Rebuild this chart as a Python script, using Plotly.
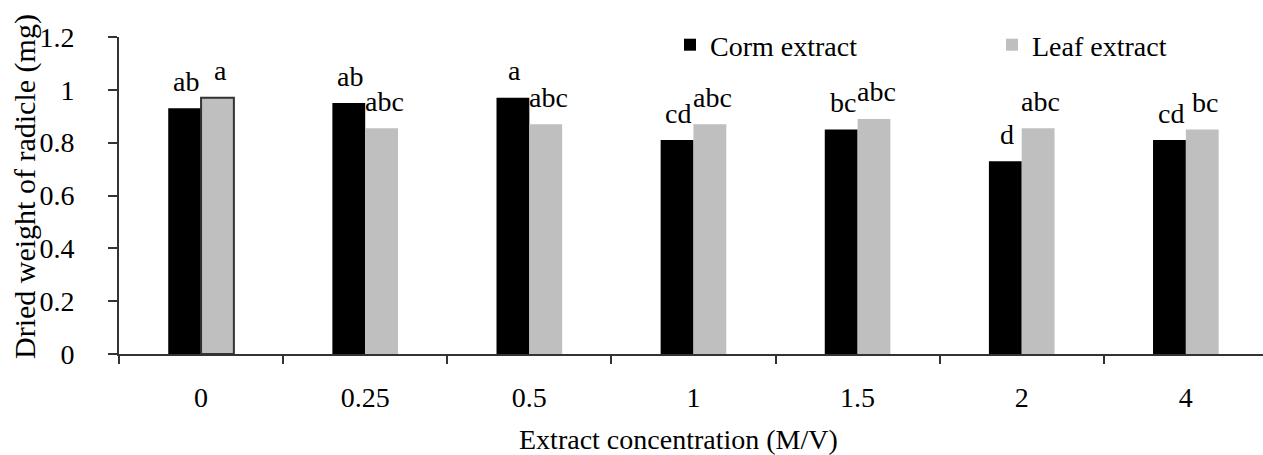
import plotly.graph_objects as go

# Radicle dry weight by extract concentration
concentrations = ["0", "0.25", "0.5", "1", "1.5", "2", "4"]
corm_weight = [0.93, 0.95, 0.97, 0.81, 0.85, 0.73, 0.81]
leaf_weight = [0.97, 0.855, 0.87, 0.87, 0.89, 0.855, 0.85]
corm_letters = ["ab", "ab", "a", "cd", "bc", "d", "cd"]
leaf_letters = ["a", "abc", "abc", "abc", "abc", "abc", "bc"]

FONT = "Liberation Serif, Times New Roman, serif"
W, H = 1263, 455
ML, MR, MT, MB = 119, 0, 37, 101
plot_w = W - ML - MR
plot_h = H - MT - MB
CORM_COLOR, LEAF_COLOR = "#000000", "#bfbfbf"


def px_x(p):
    return (p - ML) / plot_w


def px_y(p):
    return 1 - (p - MT) / plot_h


fig = go.Figure()
fig.add_trace(go.Bar(
    x=concentrations, y=corm_weight, name="Corm extract",
    offsetgroup="corm", legend="legend", showlegend=True,
    marker=dict(color=CORM_COLOR, line=dict(width=0)),
))
fig.add_trace(go.Bar(
    x=concentrations, y=leaf_weight, name="Leaf extract",
    offsetgroup="leaf", showlegend=False,
    marker=dict(color=LEAF_COLOR,
                line=dict(width=[2, 0, 0, 0, 0, 0, 0], color="#333333")),
))
# legend key for the leaf series (plain swatch, no outline)
fig.add_trace(go.Bar(
    x=[concentrations[0]], y=[None], name="Leaf extract",
    offsetgroup="leaf", legend="legend2", showlegend=True, hoverinfo="skip",
    marker=dict(color=LEAF_COLOR, line=dict(width=0)),
))

# significance letters above each bar (x given as category index)
annotations = []
for i, (v, t) in enumerate(zip(corm_weight, corm_letters)):
    annotations.append(dict(x=i, y=v, text=t, xref="x", yref="y",
                            xshift=-15, yshift=27, showarrow=False,
                            xanchor="center", yanchor="middle",
                            font=dict(family=FONT, size=28, color="black")))
for i, (v, t) in enumerate(zip(leaf_weight, leaf_letters)):
    annotations.append(dict(x=i, y=v, text=t, xref="x", yref="y",
                            xshift=19, yshift=27, showarrow=False,
                            xanchor="center", yanchor="middle",
                            font=dict(family=FONT, size=28, color="black")))

# axis titles
annotations.append(dict(text="Extract concentration (M/V)", xref="paper", yref="paper",
                        x=px_x(678), y=px_y(439),
                        showarrow=False, xanchor="center", yanchor="middle",
                        font=dict(family=FONT, size=28, color="black")))
annotations.append(dict(text="Dried weight of radicle (mg)", xref="paper", yref="paper",
                        x=px_x(25), y=px_y(187), textangle=-90,
                        showarrow=False, xanchor="center", yanchor="middle",
                        font=dict(family=FONT, size=30, color="black")))

legend_style = dict(orientation="h", xanchor="left", yanchor="middle",
                    bgcolor="rgba(0,0,0,0)",
                    font=dict(family=FONT, size=28, color="black"))

fig.update_layout(
    width=W, height=H,
    margin=dict(l=ML, r=MR, t=MT, b=MB),
    paper_bgcolor="white", plot_bgcolor="white",
    barmode="group", bargap=0.6, bargroupgap=0,
    showlegend=True,
    font=dict(family=FONT, size=28, color="black"),
    legend=dict(x=px_x(670), y=px_y(45), **legend_style),
    legend2=dict(x=px_x(992), y=px_y(45), **legend_style),
    annotations=annotations,
)
fig.update_xaxes(
    type="category", range=[-0.5, 6.47],
    tickson="boundaries", ticks="outside", ticklen=8, tickwidth=2, tickcolor="#333333",
    showline=True, linewidth=2, linecolor="#333333",
    showgrid=False, zeroline=False, ticklabelstandoff=17,
    tickfont=dict(family=FONT, size=28, color="black"),
)
fig.update_yaxes(
    range=[0, 1.2], dtick=0.2, ticks="outside", ticklen=9, tickwidth=2, tickcolor="#333333",
    showline=True, linewidth=2, linecolor="#333333",
    showgrid=False, zeroline=False, ticklabelstandoff=28,
    tickfont=dict(family=FONT, size=28, color="black"),
)

fig.write_html("out.html")
